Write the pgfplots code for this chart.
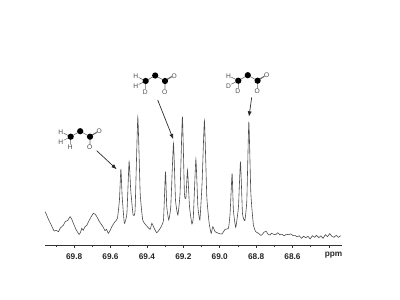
\documentclass[border=0pt]{standalone}
\usepackage{pgfplots}
\pgfplotsset{compat=1.18}
\usepackage{fontspec}
\setmainfont{Liberation Sans}
\usetikzlibrary{arrows.meta}
\definecolor{tr}{gray}{0.3}
\newcommand{\mol}[5]{% x,y of leftmost C atom; labels H/D: upper-left, lower-left, bottom
\begin{scope}[shift={(#1,#2)}]
\draw[black!60,line width=0.4pt] (-7,3.5)--(0,0) (-7,-3.5)--(0,0) (0,0)--(0,-8) (0,0)--(9.5,5.5)--(19.3,0)--(19.3,-8) (19.3,0)--(26,4) (19.8,1)--(26.5,5);
\fill (0,0) circle (3.1) (9.5,5.5) circle (3.1) (19.3,0) circle (3.1);
\node[font=\fontsize{5}{5}\selectfont,text=black!70,inner sep=0] at (-9.8,4.9) {#3};
\node[font=\fontsize{5}{5}\selectfont,text=black!70,inner sep=0] at (-9.8,-5.6) {#4};
\node[font=\fontsize{5}{5}\selectfont,text=black!70,inner sep=0] at (-0.4,-11) {#5};
\node[font=\fontsize{5}{5}\selectfont,text=black!70,inner sep=0] at (19,-11) {O};
\node[font=\fontsize{5}{5}\selectfont,text=black!70,inner sep=0] at (28.4,5) {O};
\end{scope}}
\begin{document}
\begin{tikzpicture}[x=0.75pt,y=0.75pt]
\path (0,0) rectangle (400,300);
\begin{axis}[
  at={(33.75pt,41.025pt)}, anchor=south west,
  scale only axis, width=222.5pt, height=150pt,
  x dir=reverse, xmin=68.33, xmax=69.96, ymin=0, ymax=200,
  axis x line=bottom, axis y line=none,
  axis line style={-,line width=0.4pt,black!80},
  xtick={69.8,69.6,69.4,69.2,69.0,68.8,68.6,68.4},
  xticklabels={69.8,69.6,69.4,69.2,69.0,68.8,68.6,},
  minor xtick={69.9,69.7,69.5,69.3,69.1,68.9,68.7,68.5},
  tick align=outside, tick pos=lower,
  major tick length=2pt, minor tick length=1.2pt,
  tick style={black!80,line width=0.35pt},
  x tick label style={font=\bfseries\fontsize{6.2}{6.5}\selectfont,text=black!85,yshift=-1pt},
  /pgf/number format/assume math mode=true,
  clip=false]
\addplot[tr,line width=0.45pt,smooth,tension=0.25] table {
69.959 33.6
69.941 26
69.925 20
69.910 14.3
69.898 15
69.886 13.6
69.877 17
69.868 18.6
69.859 20
69.849 23.6
69.835 25
69.822 28.6
69.813 26
69.804 22
69.790 16
69.773 11
69.765 13
69.758 17
69.750 15
69.740 18.6
69.730 20
69.721 23.6
69.708 28
69.694 32
69.684 31
69.675 28.6
69.662 24
69.648 20.3
69.640 18
69.630 14.6
69.622 16
69.612 12
69.602 15
69.593 18.6
69.578 23
69.562 27
69.551 45.3
69.543 76.3
69.536 48.6
69.524 22
69.510 32
69.498 83.6
69.489 55.3
69.476 30.3
69.465 35.3
69.450 128
69.437 52
69.423 25.3
69.401 19.3
69.382 16
69.373 22
69.360 17
69.346 12.6
69.327 17
69.309 25.3
69.298 73.6
69.291 38.6
69.280 25.3
69.269 38.6
69.254 102
69.243 45.3
69.230 30.3
69.218 52
69.205 128.6
69.194 52
69.186 47
69.177 75.3
69.166 38.6
69.153 21.3
69.145 28.6
69.131 86
69.120 38.6
69.109 25.3
69.097 62
69.084 124.6
69.071 48.6
69.058 22
69.047 12
69.038 18.6
69.025 13.6
69.007 12
68.988 11.3
68.970 16
68.952 17
68.943 32
68.932 72
68.925 35.3
68.912 18
68.897 38.6
68.886 83.6
68.875 32
68.862 24.6
68.851 45.3
68.840 123.6
68.829 52
68.815 20.3
68.802 13.6
68.787 12
68.775 10
68.769 10.3
68.757 13
68.745 14
68.734 11
68.723 10.3
68.716 12
68.704 11
68.693 10.6
68.681 12.5
68.670 10.6
68.658 11
68.646 9.5
68.634 11
68.622 10.6
68.610 11.4
68.598 9.8
68.587 10
68.575 8.5
68.563 9.5
68.551 7
68.539 9
68.527 7.6
68.515 9
68.503 6.4
68.491 9.6
68.479 8
68.468 10
68.456 7.6
68.444 9.4
68.432 7
68.420 10.6
68.408 8.6
68.396 11.6
68.384 9
68.372 8
68.360 10
68.348 8
68.336 9.6
};
\node[font=\bfseries\fontsize{6.2}{6.5}\selectfont,text=black!85] at (axis cs:68.375,0) [yshift=-7.6pt] {ppm};
\end{axis}
\mol{70.7}{163.3}{H}{H}{H}
\mol{145.7}{219}{H}{H}{D}
\mol{238.3}{219.3}{H}{D}{D}
\draw[-{Latex[length=4pt,width=3pt]},black!85,line width=0.5pt] (96.7,149.3) -- (116.7,130.7);
\draw[-{Latex[length=4pt,width=3pt]},black!85,line width=0.5pt] (157.7,200) -- (173.3,160.7);
\draw[-{Latex[length=4pt,width=3pt]},black!85,line width=0.5pt] (251.7,202.7) -- (249,183.3);
\end{tikzpicture}
\end{document}
